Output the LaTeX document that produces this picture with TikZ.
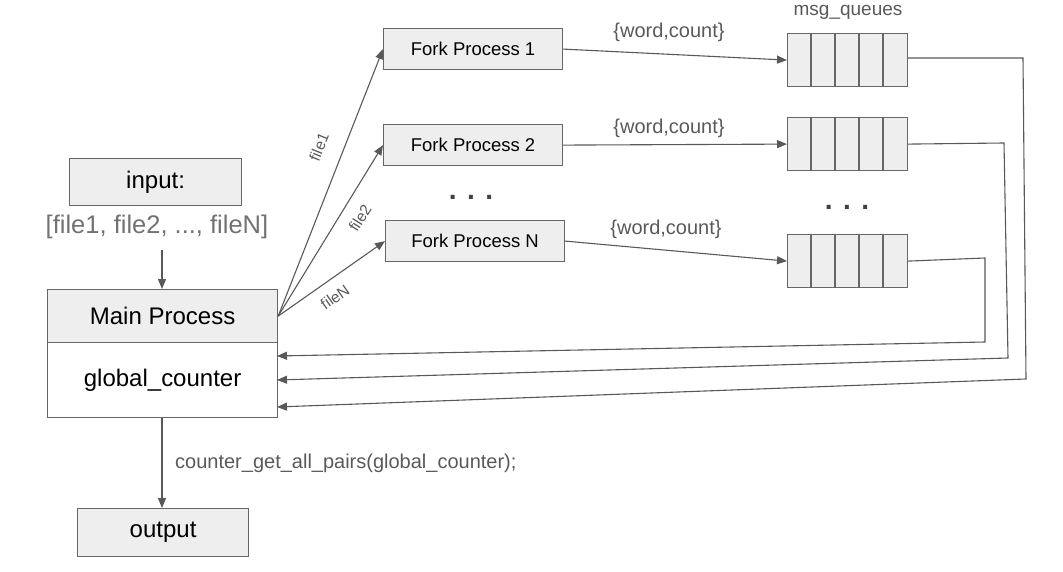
\documentclass[tikz,border=0pt]{standalone}
\usepackage{fontspec}
\setmainfont{Liberation Sans}
\usetikzlibrary{arrows.meta,calc}
\definecolor{boxfill}{HTML}{EEEEEE}
\definecolor{boxline}{HTML}{666666}
\definecolor{lnk}{HTML}{595959}
\definecolor{txtgray}{HTML}{595959}
\begin{document}
\begin{tikzpicture}[x=1pt,y=-1pt,
  box/.style={draw=boxline, fill=boxfill, line width=1.2pt, inner sep=0pt, anchor=north west, text=black},
  forkbox/.style={box, minimum width=179pt, minimum height=41pt, font=\fontsize{18.5}{20}\selectfont},
  bigbox/.style={box, font=\fontsize{24}{26}\selectfont},
  queue/.style={draw=boxline, fill=boxfill, line width=1.2pt, inner sep=0pt, anchor=north west, minimum width=120pt, minimum height=53pt},
  arr/.style={draw=lnk, line width=1.1pt, -{Triangle[length=10pt,width=8pt]}},
  lbl/.style={text=txtgray, font=\fontsize{20}{22}\selectfont, inner sep=0pt},
  flbl/.style={text=txtgray, font=\fontsize{15.5}{17}\selectfont, inner sep=0pt},
  dots/.style={text=black!75, font=\bfseries\fontsize{28}{30}\selectfont, inner sep=0pt, anchor=base}
]
\useasboundingbox (0,0) rectangle (1063,572);

% input
\node[bigbox, minimum width=172pt, minimum height=47pt] (input) at (69,158) {input:};
\node[text=txtgray!85, font=\fontsize{25.5}{28}\selectfont, inner sep=0pt] (files) at (157,227) {[file1, file2, ..., fileN]};

% main process
\node[bigbox, minimum width=230pt, minimum height=53pt] (mainp) at (47,289) {Main Process};
\node[bigbox, fill=white, minimum width=230pt, minimum height=75pt] (counter) at (47,342) {global\_counter};

% output
\node[bigbox, minimum width=171pt, minimum height=48pt] (output) at (77,508) {output};

% forks
\node[forkbox] (f1) at (383,28) {Fork Process 1};
\node[forkbox] (f2) at (383,124) {Fork Process 2};
\node[forkbox] (fN) at (385,220) {Fork Process N};
\node[dots] (fdots) at (471,200) {. . .};

% queues
\node[queue] (q1) at (787,33) {};
\node[queue] (q2) at (787,117) {};
\node[queue] (qN) at (787,234) {};
\foreach \q in {q1,q2,qN}{
  \foreach \k in {1,2,3,4}{
    \draw[boxline, line width=1.2pt] ($(\q.north west)+(24*\k,0)$) -- ($(\q.south west)+(24*\k,0)$);
  }
}
\node[lbl, font=\fontsize{19}{21}\selectfont, anchor=base] (mq) at (848,16) {msg\_queues};
\node[dots] (qdots) at (847,210) {. . .};

% input -> main
\coordinate (inarrow) at (162,250);
\draw[arr] (inarrow) -- (mainp.north -| inarrow);

% main -> forks
\draw[arr] (mainp.east) -- (f1.west);
\draw[arr] (mainp.east) -- (f2.west);
\draw[arr] (mainp.east) -- (fN.west);
\node[flbl, rotate=68] (l1) at (319,147) {file1};
\node[flbl, rotate=58] (l2) at (360,218) {file2};
\node[flbl, rotate=35] (lN) at (335,297) {fileN};

% forks -> queues
\draw[arr] (f1.east) -- (q1.west);
\draw[arr] (f2.east) -- (q2.west);
\draw[arr] (fN.east) -- (qN.west);
\node[lbl] (w1) at (669,32) {\{word,count\}};
\node[lbl] (w2) at (669,128) {\{word,count\}};
\node[lbl] (wN) at (666,229) {\{word,count\}};

% returns
\coordinate (r1a) at (1023,58);
\coordinate (r1b) at (1026,379);
\coordinate (m1) at (277,407);
\coordinate (r2a) at (1004,143);
\coordinate (r2b) at (1008,358);
\coordinate (m2) at (277,380);
\coordinate (r3a) at (985,258);
\coordinate (r3b) at (985,342);
\coordinate (m3) at (277,356);
\draw[arr] (q1.east |- r1a) -- (r1a) -- (r1b) -- (m1);
\draw[arr] (q2.east) -- (r2a) -- (r2b) -- (m2);
\draw[arr] (qN.east) -- (r3a) -- (r3b) -- (m3);

% main -> output
\draw[arr] (counter.south -| inarrow) -- (output.north -| inarrow);
\node[lbl, anchor=west] (cg) at (175,463) {counter\_get\_all\_pairs(global\_counter);};
\end{tikzpicture}
\end{document}
